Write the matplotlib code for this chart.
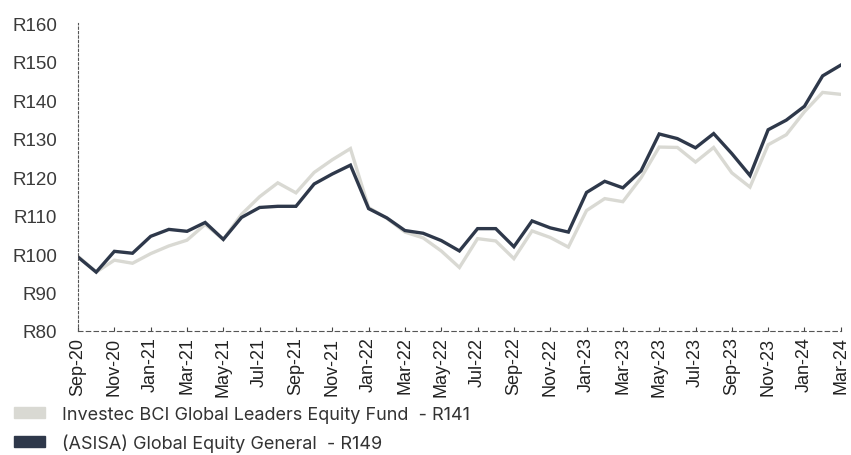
import numpy as np
import matplotlib.pyplot as plt
from matplotlib.patches import Patch

# monthly data Sep-20 .. Mar-24
months = ['Sep-20', 'Oct-20', 'Nov-20', 'Dec-20', 'Jan-21', 'Feb-21', 'Mar-21', 'Apr-21',
          'May-21', 'Jun-21', 'Jul-21', 'Aug-21', 'Sep-21', 'Oct-21', 'Nov-21', 'Dec-21',
          'Jan-22', 'Feb-22', 'Mar-22', 'Apr-22', 'May-22', 'Jun-22', 'Jul-22', 'Aug-22',
          'Sep-22', 'Oct-22', 'Nov-22', 'Dec-22', 'Jan-23', 'Feb-23', 'Mar-23', 'Apr-23',
          'May-23', 'Jun-23', 'Jul-23', 'Aug-23', 'Sep-23', 'Oct-23', 'Nov-23', 'Dec-23',
          'Jan-24', 'Feb-24', 'Mar-24']

investec = [99.4, 95.3, 98.4, 97.6, 100.1, 102.1, 103.6, 107.7, 103.8, 110.3, 114.9, 118.5,
            115.9, 121.2, 124.5, 127.4, 112.1, 109.3, 105.7, 104.2, 100.8, 96.5, 104.0, 103.4,
            98.8, 106.0, 104.3, 101.8, 111.3, 114.4, 113.6, 119.8, 127.8, 127.7, 123.9, 127.7,
            121.1, 117.4, 128.4, 131.0, 137.0, 142.0, 141.5]

asisa = [99.2, 95.3, 100.7, 100.2, 104.6, 106.4, 105.9, 108.2, 103.8, 109.5, 112.1, 112.4,
         112.4, 118.2, 120.8, 123.1, 111.8, 109.4, 106.1, 105.4, 103.5, 100.8, 106.6, 106.6,
         101.9, 108.6, 106.8, 105.7, 116.0, 118.9, 117.2, 121.6, 131.2, 130.0, 127.6, 131.3,
         126.1, 120.4, 132.3, 134.8, 138.4, 146.3, 149.1]

labels = ['Investec BCI Global Leaders Equity Fund  - R141',
          '(ASISA) Global Equity General  - R149']

light = '#d9d9d3'
dark = '#2e384a'

fig = plt.figure(figsize=(8.51, 4.56), dpi=100)
ax = fig.add_axes([0.0917, 0.272, 0.8963, 0.675])

x = np.arange(len(months))
ax.plot(x, investec, color=light, lw=2.4, solid_joinstyle='miter')
ax.plot(x, asisa, color=dark, lw=2.4, solid_joinstyle='miter')

ax.set_xlim(0, len(months) - 1)
ax.set_ylim(80, 160)
ax.set_yticks(range(80, 161, 10))
ax.set_yticklabels(['R%d' % v for v in range(80, 161, 10)],
                   fontsize=13.5, color='#3a3a3a', family='Liberation Sans')
ax.set_xticks(x[::2])
ax.set_xticklabels(months[::2], rotation=90, fontsize=13, color='#222',
                   family='Liberation Sans')
ax.tick_params(axis='y', length=0, pad=15)
ax.tick_params(axis='x', direction='in', length=3, width=0.8, color='#444', pad=4)

for s in ['top', 'right']:
    ax.spines[s].set_visible(False)
ax.spines['left'].set_linestyle((0, (2, 2)))
ax.spines['left'].set_color('#555')
ax.spines['bottom'].set_linestyle((0, (4, 3)))
ax.spines['bottom'].set_color('#555')

handles = [Patch(color=light), Patch(color=dark)]
leg = fig.legend(handles, labels, loc='upper left', bbox_to_anchor=(0.0, 0.14),
                 frameon=False, handlelength=1.7, handleheight=0.6, labelspacing=0.6,
                 handletextpad=0.95, borderaxespad=0.4,
                 prop={'family': 'Inter', 'size': 13})
for t in leg.get_texts():
    t.set_color('#333')

fig.savefig('out.png', dpi=100)
